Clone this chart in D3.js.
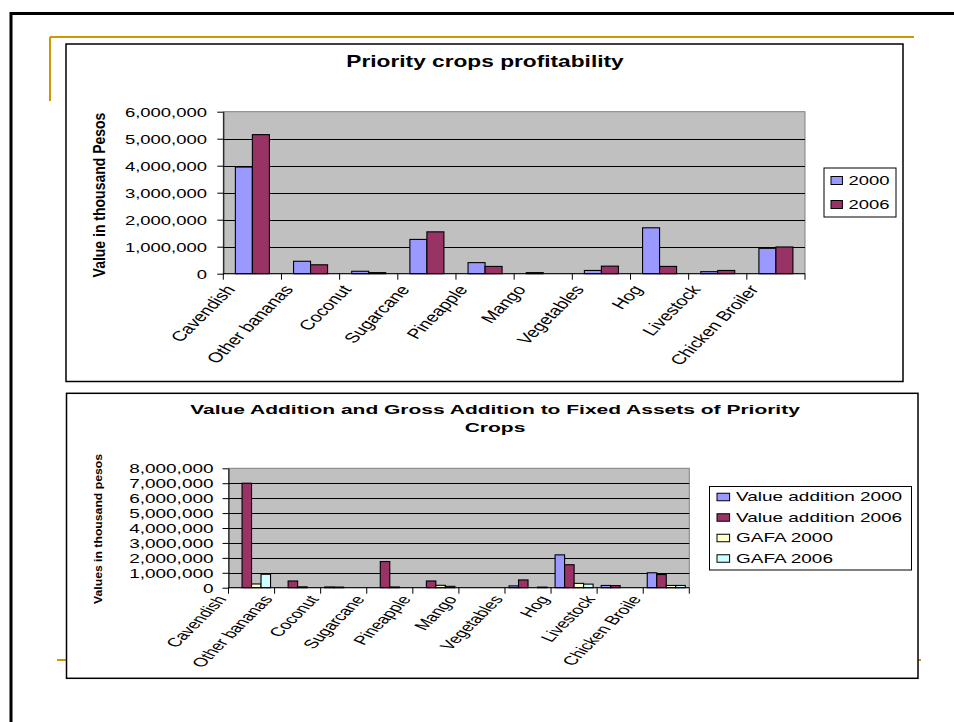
<!DOCTYPE html>
<html>
<head>
<meta charset="utf-8">
<script src="https://cdn.jsdelivr.net/npm/d3@7"></script>
<style>
  html, body { margin: 0; padding: 0; background: #fff; }
  svg { display: block; font-family: "Liberation Sans", Arial, sans-serif; }
</style>
</head>
<body>
<svg id="slide" width="954" height="722"></svg>
<script>
// ---- Priority crops profitability (thousand pesos) ----
const cropCategories = ["Cavendish", "Other bananas", "Coconut", "Sugarcane", "Pineapple",
  "Mango", "Vegetables", "Hog", "Livestock", "Chicken Broiler"];
const profit2000 = [3950000, 460000, 90000, 1270000, 410000, 40000, 120000, 1700000, 75000, 940000];
const profit2006 = [5150000, 330000, 40000, 1550000, 270000, 0, 280000, 270000, 120000, 990000];
const profitSeries = ["2000", "2006"];
const profitTicks = [0, 1000000, 2000000, 3000000, 4000000, 5000000, 6000000];

// ---- Value addition and GAFA (thousand pesos) ----
const gafaCategories = ["Cavendish", "Other bananas", "Coconut", "Sugarcane", "Pineapple",
  "Mango", "Vegetables", "Hog", "Livestock", "Chicken Broile"];
const valueAdd2000 = [0, 0, 50000, 0, 0, 0, 120000, 2200000, 150000, 1000000];
const valueAdd2006 = [7000000, 450000, 40000, 1750000, 450000, 0, 520000, 1540000, 140000, 880000];
const gafa2000 = [250000, 60000, 0, 50000, 160000, 0, 0, 290000, 0, 150000];
const gafa2006 = [900000, 0, 0, 0, 90000, 0, 40000, 240000, 0, 150000];
const gafaSeries = ["Value addition 2000", "Value addition 2006", "GAFA 2000", "GAFA 2006"];
const gafaTicks = [0, 1000000, 2000000, 3000000, 4000000, 5000000, 6000000, 7000000, 8000000];

const svg = d3.select("#slide");
const gold = "#CC9900";
const fmt = d3.format(",");

// slide frame and decorative rules
svg.append("rect").attr("x", 11).attr("y", 13.5).attr("width", 980).attr("height", 740)
  .attr("fill", "none").attr("stroke", "#000").attr("stroke-width", 3);
svg.append("line").attr("x1", 50).attr("x2", 914).attr("y1", 37).attr("y2", 37)
  .attr("stroke", gold).attr("stroke-width", 2);
svg.append("line").attr("x1", 50).attr("x2", 50).attr("y1", 37).attr("y2", 101)
  .attr("stroke", gold).attr("stroke-width", 2);
svg.append("line").attr("x1", 57).attr("x2", 921).attr("y1", 660).attr("y2", 660)
  .attr("stroke", gold).attr("stroke-width", 2);

// text drawn with a horizontal stretch (the charts are widened on the slide)
function wideText(parent, x, y, str, o) {
  const t = parent.append("text")
    .attr("transform", `translate(${x},${y}) scale(${o.k},1)` + (o.rotate ? ` rotate(${o.rotate})` : ""))
    .attr("text-anchor", o.anchor || "start")
    .attr("dy", o.dy || "0")
    .style("font-size", o.size + "px")
    .style("font-weight", o.weight || "normal")
    .attr("fill", "#000")
    .text(str);
  if (o.length) t.attr("textLength", o.length).attr("lengthAdjust", "spacingAndGlyphs");
  return t;
}

function drawChart(cfg) {
  const g = svg.append("g");
  // chart frame
  g.append("rect").attr("x", cfg.box[0]).attr("y", cfg.box[1])
    .attr("width", cfg.box[2]).attr("height", cfg.box[3])
    .attr("fill", "#fff").attr("stroke", "#000").attr("stroke-width", 1.5);

  const x0 = d3.scaleBand().domain(cfg.categories).range([cfg.plot.left, cfg.plot.right])
    .paddingInner(0).paddingOuter(0);
  const x1 = d3.scaleBand().domain(cfg.series).range([0, x0.bandwidth()])
    .paddingInner(0).paddingOuter(cfg.outerPad);
  const y = d3.scaleLinear().domain([0, d3.max(cfg.ticks)]).range([cfg.plot.bottom, cfg.plot.top]);

  // plot area
  g.append("rect").attr("x", cfg.plot.left).attr("y", cfg.plot.top)
    .attr("width", cfg.plot.right - cfg.plot.left).attr("height", cfg.plot.bottom - cfg.plot.top)
    .attr("fill", "#C0C0C0").attr("stroke", "#808080").attr("stroke-width", 1);

  // gridlines
  g.append("g").selectAll("line")
    .data(cfg.ticks.filter(t => t > 0 && t < d3.max(cfg.ticks)))
    .join("line")
    .attr("x1", cfg.plot.left).attr("x2", cfg.plot.right)
    .attr("y1", d => Math.round(y(d)) + 0.5).attr("y2", d => Math.round(y(d)) + 0.5)
    .attr("stroke", "#000").attr("stroke-width", 1);

  // bars
  const rows = cfg.categories.map((c, i) => ({
    c, vals: cfg.series.map((s, j) => ({ s, v: cfg.values[j][i] }))
  }));
  g.append("g").selectAll("g").data(rows).join("g")
    .attr("transform", d => `translate(${x0(d.c)},0)`)
    .selectAll("rect").data(d => d.vals.filter(v => v.v > 0)).join("rect")
    .attr("x", d => x1(d.s)).attr("width", x1.bandwidth())
    .attr("y", d => y(d.v)).attr("height", d => y(0) - y(d.v))
    .attr("fill", d => cfg.colors[cfg.series.indexOf(d.s)])
    .attr("stroke", "#000").attr("stroke-width", 1.1);

  // value axis
  const yAxis = g.append("g").attr("transform", `translate(${cfg.plot.left},0)`)
    .call(d3.axisLeft(y).tickValues(cfg.ticks).tickFormat(fmt).tickSizeInner(6).tickSizeOuter(0));
  yAxis.select(".domain").attr("stroke", "#000");
  yAxis.selectAll(".tick line").attr("stroke", "#000");
  yAxis.selectAll(".tick text")
    .attr("transform", `scale(${cfg.k},1)`)
    .attr("x", -cfg.tickGap / cfg.k)
    .attr("dy", "0.36em")
    .style("font-size", cfg.tickSize + "px")
    .style("font-family", "'Liberation Sans', Arial, sans-serif")
    .attr("fill", "#000");

  // category axis with ticks at band edges
  g.append("line").attr("x1", cfg.plot.left).attr("x2", cfg.plot.right)
    .attr("y1", cfg.plot.bottom).attr("y2", cfg.plot.bottom).attr("stroke", "#000");
  const edges = cfg.categories.map(c => x0(c)).concat([cfg.plot.right]);
  g.append("g").selectAll("line").data(edges).join("line")
    .attr("x1", d => d).attr("x2", d => d)
    .attr("y1", cfg.plot.bottom).attr("y2", cfg.plot.bottom + 6)
    .attr("stroke", "#000");

  cfg.categories.forEach(c => {
    wideText(g, x0(c) + cfg.labelDx, cfg.plot.bottom + cfg.labelDy, c,
      { k: cfg.k, rotate: cfg.labelAngle, anchor: "end", dy: "0.35em", size: cfg.labelSize });
  });

  return { g, x0, x1, y };
}

// ---------- Chart 1 ----------
const c1 = drawChart({
  box: [66, 44, 837, 337.5],
  plot: { left: 223.3, right: 805, top: 111.7, bottom: 273.7 },
  categories: cropCategories, series: profitSeries,
  values: [profit2000, profit2006], colors: ["#9999FF", "#993366"],
  ticks: profitTicks, outerPad: 0.71, k: 1.42, tickGap: 16.3, tickSize: 13,
  labelDx: 7, labelDy: 13, labelAngle: -54, labelSize: 14
});
wideText(c1.g, 485, 67, "Priority crops profitability", { k: 1.42, anchor: "middle", size: 16, weight: "bold" });
c1.g.append("text")
  .attr("transform", "translate(105,195) scale(1.2,1) rotate(-90)")
  .attr("text-anchor", "middle").style("font-size", "14px").style("font-weight", "bold")
  .text("Value in thousand Pesos");

// legend
const lg1 = c1.g.append("g");
lg1.append("rect").attr("x", 824).attr("y", 168).attr("width", 72).attr("height", 49)
  .attr("fill", "#fff").attr("stroke", "#000");
profitSeries.forEach((s, i) => {
  const cy = 180.5 + i * 24;
  lg1.append("rect").attr("x", 831).attr("y", cy - 4).attr("width", 11.4).attr("height", 8)
    .attr("fill", ["#9999FF", "#993366"][i]).attr("stroke", "#000");
  wideText(lg1, 848.5, cy, s, { k: 1.42, size: 13, dy: "0.36em" });
});

// ---------- Chart 2 ----------
const c2 = drawChart({
  box: [66.5, 393.3, 851.5, 285],
  plot: { left: 228.5, right: 689.3, top: 468.3, bottom: 587.7 },
  categories: gafaCategories, series: gafaSeries,
  values: [valueAdd2000, valueAdd2006, gafa2000, gafa2006],
  colors: ["#9999FF", "#993366", "#FFFFCC", "#CCFFFF"],
  ticks: gafaTicks, outerPad: 0.425, k: 1.58, tickGap: 15, tickSize: 12,
  labelDx: -7, labelDy: 9, labelAngle: -57, labelSize: 12.5
});
wideText(c2.g, 495, 414, "Value Addition and Gross Addition to Fixed Assets of Priority",
  { k: 1.68, anchor: "middle", size: 12.5, weight: "bold" });
wideText(c2.g, 495, 432, "Crops", { k: 1.68, anchor: "middle", size: 12.5, weight: "bold" });
c2.g.append("text")
  .attr("transform", "translate(102,529) scale(0.95,1) rotate(-90)")
  .attr("text-anchor", "middle").style("font-size", "12.3px").style("font-weight", "bold")
  .attr("textLength", 150).attr("lengthAdjust", "spacingAndGlyphs")
  .text("Values in thousand pesos");

const lg2 = c2.g.append("g");
lg2.append("rect").attr("x", 709.5).attr("y", 486.5).attr("width", 202).attr("height", 83.5)
  .attr("fill", "#fff").attr("stroke", "#000");
gafaSeries.forEach((s, i) => {
  const cy = 497 + i * 20.5;
  lg2.append("rect").attr("x", 717).attr("y", cy - 3.75).attr("width", 12.6).attr("height", 7.5)
    .attr("fill", ["#9999FF", "#993366", "#FFFFCC", "#CCFFFF"][i]).attr("stroke", "#000");
  wideText(lg2, 736, cy, s, { k: 1.58, size: 12, dy: "0.36em" });
});
</script>
</body>
</html>
